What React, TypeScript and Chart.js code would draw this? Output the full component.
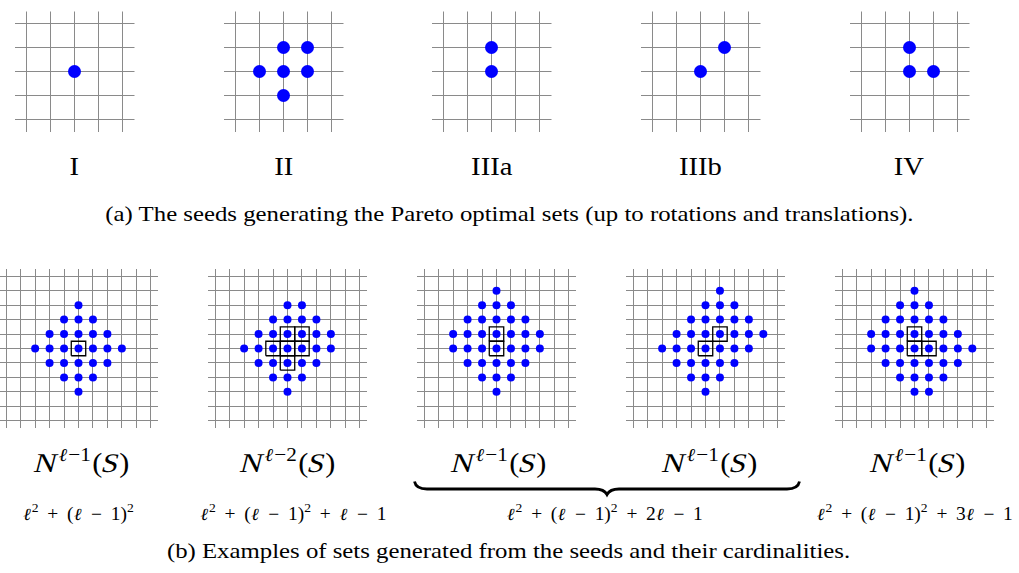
import React, { useEffect, useRef } from 'react';
import { Chart, registerables } from 'chart.js';

Chart.register(...registerables);

// ---- data: seeds (top row) ----
const seedLabels = ['I', 'II', 'IIIa', 'IIIb', 'IV'];
const seedI: number[][] = [[0, 0]];
const seedII: number[][] = [[0, 1], [1, 1], [-1, 0], [0, 0], [1, 0], [0, -1]];
const seedIIIa: number[][] = [[0, 1], [0, 0]];
const seedIIIb: number[][] = [[0, 0], [1, 1]];
const seedIV: number[][] = [[0, 1], [0, 0], [1, 0]];
const seeds = [seedI, seedII, seedIIIa, seedIIIb, seedIV];
const seedGridTicks = [-2, -1, 0, 1, 2];

// ---- data: generated sets (bottom row), rows of [y, x positions] ----
type Row = [number, number[]];
const setIRows: Row[] = [
  [3, [0]],
  [2, [-1, 0, 1]],
  [1, [-2, -1, 0, 1, 2]],
  [0, [-3, -2, -1, 0, 1, 2, 3]],
  [-1, [-2, -1, 0, 1, 2]],
  [-2, [-1, 0, 1]],
  [-3, [0]],
];
const setIIRows: Row[] = [
  [3, [0, 1]],
  [2, [-1, 0, 1, 2]],
  [1, [-2, -1, 0, 1, 2, 3]],
  [0, [-3, -2, -1, 0, 1, 2, 3]],
  [-1, [-2, -1, 0, 1, 2]],
  [-2, [-1, 0, 1]],
  [-3, [0]],
];
const setIIIaRows: Row[] = [
  [4, [0]],
  [3, [-1, 0, 1]],
  [2, [-2, -1, 0, 1, 2]],
  [1, [-3, -2, -1, 0, 1, 2, 3]],
  [0, [-3, -2, -1, 0, 1, 2, 3]],
  [-1, [-2, -1, 0, 1, 2]],
  [-2, [-1, 0, 1]],
  [-3, [0]],
];
const setIIIbRows: Row[] = [
  [4, [1]],
  [3, [0, 1, 2]],
  [2, [-1, 0, 1, 2, 3]],
  [1, [-2, -1, 0, 1, 2, 3, 4]],
  [0, [-3, -2, -1, 0, 1, 2, 3]],
  [-1, [-2, -1, 0, 1, 2]],
  [-2, [-1, 0, 1]],
  [-3, [0]],
];
const setIVRows: Row[] = [
  [4, [0]],
  [3, [-1, 0, 1]],
  [2, [-2, -1, 0, 1, 2]],
  [1, [-3, -2, -1, 0, 1, 2, 3]],
  [0, [-3, -2, -1, 0, 1, 2, 3, 4]],
  [-1, [-2, -1, 0, 1, 2, 3]],
  [-2, [-1, 0, 1, 2]],
  [-3, [0, 1]],
];
const setRows = [setIRows, setIIRows, setIIIaRows, setIIIbRows, setIVRows];
const setBoxes = [seedI, seedII, seedIIIa, seedIIIb, seedIV];
const setGridTicks = [-5, -4, -3, -2, -1, 0, 1, 2, 3, 4, 5];

// ---- text ----
const setExponents = ['1', '2', '1', '1', '1'];
const cardinalityLinear = ['', '', '2', '3'];
const cardinalityHasTail = [false, true, true, true];
const captionA = '(a) The seeds generating the Pareto optimal sets (up to rotations and translations).';
const captionB = '(b) Examples of sets generated from the seeds and their cardinalities.';

// ---- layout ----
const topCenters = [74.3, 283.3, 491.7, 700.7, 909];
const topCy = 71.7;
const botCenters = [78.7, 287.7, 496.7, 705.3, 914];
const botCy = 348.7;
const labelCenters = [82, 288, 499, 710, 918];
const cardCenters = [78, 293, 605, 915];

const FONT = '"Liberation Serif", serif';
const ELL_FONT = '"DejaVu Serif", "Liberation Serif", serif';

type GridProps = {
  cx: number;
  cy: number;
  size: number;
  half: number;
  ticks: number[];
  points: number[][];
  boxes: number[][];
  radius: number;
};

function axis(half: number, ticks: number[]) {
  return {
    type: 'linear' as const,
    min: -half,
    max: half,
    display: true,
    ticks: { display: false },
    grid: { color: '#8a8a8a', lineWidth: 1, drawTicks: false },
    border: { display: false },
    afterBuildTicks: (a: any) => {
      a.ticks = ticks.map((v) => ({ value: v }));
    },
  };
}

function Grid({ cx, cy, size, half, ticks, points, boxes, radius }: GridProps) {
  const ref = useRef<HTMLCanvasElement>(null);
  useEffect(() => {
    if (!ref.current) return;
    const datasets: any[] = [
      {
        data: points.map(([x, y]) => ({ x, y })),
        pointRadius: radius,
        pointBackgroundColor: '#0000ff',
        pointBorderWidth: 0,
        pointBorderColor: '#0000ff',
        showLine: false,
      },
    ];
    boxes.forEach(([bx, by]) => {
      datasets.push({
        data: [
          { x: bx - 0.5, y: by - 0.5 },
          { x: bx + 0.5, y: by - 0.5 },
          { x: bx + 0.5, y: by + 0.5 },
          { x: bx - 0.5, y: by + 0.5 },
          { x: bx - 0.5, y: by - 0.5 },
        ],
        showLine: true,
        pointRadius: 0,
        borderColor: '#000000',
        borderWidth: 1.3,
        fill: false,
        tension: 0,
      });
    });
    const chart = new Chart(ref.current, {
      type: 'scatter',
      data: { datasets },
      options: {
        animation: false,
        responsive: false,
        events: [],
        layout: { padding: 0 },
        plugins: { legend: { display: false }, tooltip: { enabled: false } },
        scales: { x: axis(half, ticks), y: axis(half, ticks) } as any,
      },
    });
    return () => chart.destroy();
  }, []);
  return (
    <canvas
      ref={ref}
      width={size}
      height={size}
      style={{
        position: 'absolute',
        left: Math.round(cx - size / 2),
        top: Math.round(cy - size / 2),
        width: size,
        height: size,
      }}
    />
  );
}

const Sup = ({ children }: { children: React.ReactNode }) => (
  <span style={{ fontSize: '0.7em', position: 'relative', top: '-0.6em' }}>{children}</span>
);
const It = ({ children }: { children: React.ReactNode }) => (
  <span style={{ display: 'inline-block', transform: 'skewX(-13deg)' }}>{children}</span>
);
const Ell = () => (
  <span style={{ display: 'inline-block', transform: 'skewX(-10deg)', fontFamily: ELL_FONT, fontSize: '0.95em' }}>
    ℓ
  </span>
);
const Op = ({ children }: { children: React.ReactNode }) => (
  <span style={{ margin: '0 0.45em' }}>{children}</span>
);

function expandRows(rows: Row[]): number[][] {
  const pts: number[][] = [];
  rows.forEach(([y, xs]) => xs.forEach((x) => pts.push([x, y])));
  return pts;
}

function Caption({ text, top, center }: { text: string; top: number; center: number }) {
  return (
    <div
      style={{
        position: 'absolute',
        left: center - 600,
        width: 1200,
        top,
        textAlign: 'center',
        fontSize: 21,
        lineHeight: '21px',
        whiteSpace: 'nowrap',
      }}
    >
      <span style={{ display: 'inline-block', transform: 'scaleX(1.18)', transformOrigin: 'center' }}>{text}</span>
    </div>
  );
}

export default function App() {
  return (
    <div
      style={{
        position: 'absolute',
        left: 0,
        top: 0,
        width: 1019,
        height: 573,
        overflow: 'hidden',
        background: '#ffffff',
        fontFamily: FONT,
        color: '#000',
      }}
    >
      {seeds.map((s, i) => (
        <Grid
          key={'t' + i}
          cx={topCenters[i]}
          cy={topCy}
          size={133}
          half={2.5}
          ticks={seedGridTicks}
          points={s}
          boxes={[]}
          radius={6.5}
        />
      ))}
      {seedLabels.map((l, i) => (
        <div
          key={'l' + i}
          style={{
            position: 'absolute',
            left: topCenters[i] - 60,
            width: 120,
            top: 154,
            textAlign: 'center',
            fontSize: 26,
            lineHeight: '26px',
          }}
        >
          <span style={{ display: 'inline-block', transform: 'scaleX(1.1)' }}>{l}</span>
        </div>
      ))}
      <Caption text={captionA} top={204} center={509} />

      {setRows.map((rows, i) => (
        <Grid
          key={'b' + i}
          cx={botCenters[i]}
          cy={botCy}
          size={167}
          half={5.5}
          ticks={setGridTicks}
          points={expandRows(rows)}
          boxes={setBoxes[i]}
          radius={4}
        />
      ))}
      {setExponents.map((e, i) => (
        <div
          key={'n' + i}
          style={{
            position: 'absolute',
            left: labelCenters[i] - 80,
            width: 160,
            top: 450,
            textAlign: 'center',
            fontSize: 27,
            lineHeight: '27px',
            whiteSpace: 'nowrap',
          }}
        >
          <span style={{ display: 'inline-block', transform: 'scaleX(1.12)' }}>
            <It>N</It>
            <span style={{ marginLeft: '0.06em' }}>
              <Sup>
                <Ell />−{e}
              </Sup>
            </span>
            <span style={{ marginLeft: '0.05em' }}>(</span>
            <It>S</It>)
          </span>
        </div>
      ))}
      <svg
        style={{ position: 'absolute', left: 413, top: 480, overflow: 'visible' }}
        width={388}
        height={16}
      >
        <path
          d="M 1.5 1.5 Q 3 9 14 9 L 182 9 Q 191 9 194 14.5 Q 197 9 206 9 L 374 9 Q 385 9 386.5 1.5"
          fill="none"
          stroke="#000"
          strokeWidth={2.8}
        />
      </svg>
      {cardinalityLinear.map((t, i) => (
        <div
          key={'c' + i}
          style={{
            position: 'absolute',
            left: cardCenters[i] - 130,
            width: 260,
            top: 505,
            textAlign: 'center',
            fontSize: 18,
            lineHeight: '18px',
            whiteSpace: 'nowrap',
          }}
        >
          <span style={{ display: 'inline-block', transform: 'scaleX(1.08)' }}>
            <Ell />
            <Sup>2</Sup>
            <Op>+</Op>(<Ell />
            <Op>−</Op>1)<Sup>2</Sup>
            {cardinalityHasTail[i] && (
              <>
                <Op>+</Op>
                {t}
                <Ell />
                <Op>−</Op>1
              </>
            )}
          </span>
        </div>
      ))}
      <Caption text={captionB} top={541} center={509} />
    </div>
  );
}
